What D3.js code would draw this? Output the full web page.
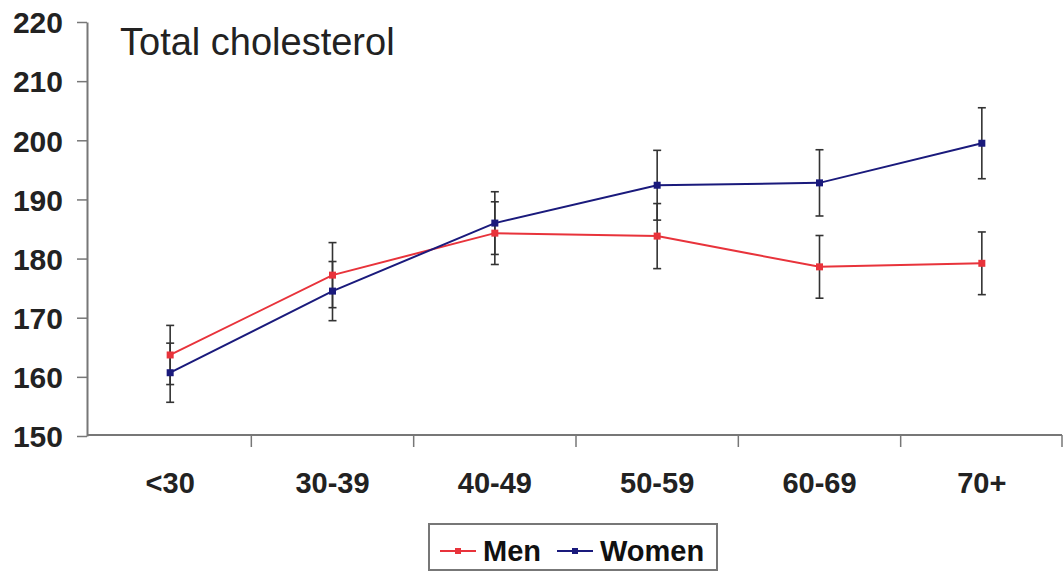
<!DOCTYPE html>
<html><head><meta charset="utf-8">
<script src="https://cdn.jsdelivr.net/npm/d3@7"></script>
<style>html,body{margin:0;padding:0;background:#fff;}svg{display:block;}</style>
</head><body>
<svg id="chart" width="1064" height="573"></svg>
<script>
const categories = ["<30","30-39","40-49","50-59","60-69","70+"];
const menValues = [163.7,177.2,184.3,183.8,178.6,179.2];
const menErr = [5.0,5.5,5.3,5.5,5.3,5.3];
const womenValues = [160.7,174.5,186.0,192.4,192.8,199.5];
const womenErr = [5.0,5.0,5.3,5.9,5.6,6.0];
const yTicks = [150,160,170,180,190,200,210,220];
const seriesNames = ["Men","Women"];
const seriesColors = ["#e8333b","#1a1a7c"];
const titleText = "Total cholesterol";

const svg = d3.select("#chart");
const x = d3.scaleBand().domain(categories).range([89,1063]);
const y = d3.scaleLinear().domain([150,220]).range([436,22]);
const cx = d => x(d) + x.bandwidth()/2;

// axes
const yAxis = svg.append("g").attr("transform","translate(87,0)")
  .call(d3.axisLeft(y).tickValues(yTicks).tickSize(10).tickSizeOuter(0).tickPadding(14));
yAxis.select(".domain").attr("stroke","#777").attr("stroke-width",2);
yAxis.selectAll(".tick line").attr("stroke","#777").attr("stroke-width",1.5);
yAxis.selectAll("text").attr("font-family","Liberation Sans, Arial, sans-serif")
  .attr("font-weight","bold").attr("font-size",30).attr("fill","#222").attr("dy","0.36em");

const xAxis = svg.append("g").attr("transform","translate(0,435)")
  .call(d3.axisBottom(x).tickSize(0).tickPadding(37).tickSizeOuter(0));
xAxis.select(".domain").attr("stroke","#777").attr("stroke-width",2).attr("d","M87,0H1062");
xAxis.selectAll("text").attr("font-family","Liberation Sans, Arial, sans-serif")
  .attr("font-weight","bold").attr("font-size",29).attr("fill","#222");
// boundary ticks
svg.append("g").selectAll("line").data(categories.slice(1).concat(["__end"]))
  .join("line")
  .attr("x1",(d,i)=> i < categories.length-1 ? x(d) : x.range()[1]-1)
  .attr("x2",(d,i)=> i < categories.length-1 ? x(d) : x.range()[1]-1)
  .attr("y1",435).attr("y2",447).attr("stroke","#777").attr("stroke-width",1.5);

// title
svg.append("text").attr("x",120).attr("y",55).text(titleText)
  .attr("font-family","Liberation Sans, Arial, sans-serif").attr("font-size",38).attr("fill","#222");

const series = [
  {name:seriesNames[0], vals:menValues, err:menErr, color:seriesColors[0]},
  {name:seriesNames[1], vals:womenValues, err:womenErr, color:seriesColors[1]}
];

// error bars
series.forEach(s => {
  const g = svg.append("g").attr("stroke","#333").attr("stroke-width",1.6);
  categories.forEach((c,i) => {
    const X = cx(c), top = y(s.vals[i]+s.err[i]), bot = y(s.vals[i]-s.err[i]);
    g.append("line").attr("x1",X).attr("x2",X).attr("y1",top).attr("y2",bot);
    g.append("line").attr("x1",X-4).attr("x2",X+4).attr("y1",top).attr("y2",top);
    g.append("line").attr("x1",X-4).attr("x2",X+4).attr("y1",bot).attr("y2",bot);
  });
});

// lines and markers
const line = d3.line().x(d=>cx(d.c)).y(d=>y(d.v));
series.forEach(s => {
  const pts = categories.map((c,i)=>({c, v:s.vals[i]}));
  svg.append("path").datum(pts).attr("d",line).attr("fill","none")
    .attr("stroke",s.color).attr("stroke-width",2);
  svg.append("g").selectAll("rect").data(pts).join("rect")
    .attr("x",d=>cx(d.c)-3.5).attr("y",d=>y(d.v)-3.5).attr("width",7).attr("height",7)
    .attr("fill",s.color);
});

// legend
const lg = svg.append("g");
lg.append("rect").attr("x",429).attr("y",524).attr("width",288).attr("height",46)
  .attr("fill","#fff").attr("stroke","#777").attr("stroke-width",2);
const legendPos = [{lx:440, tx:483},{lx:557, tx:600}];
series.forEach((s,i) => {
  const p = legendPos[i];
  lg.append("line").attr("x1",p.lx).attr("x2",p.lx+36).attr("y1",551).attr("y2",551)
    .attr("stroke",s.color).attr("stroke-width",2);
  lg.append("rect").attr("x",p.lx+15).attr("y",548).attr("width",6).attr("height",6).attr("fill",s.color);
  lg.append("text").attr("x",p.tx).attr("y",561).text(s.name)
    .attr("font-family","Liberation Sans, Arial, sans-serif").attr("font-weight","bold")
    .attr("font-size",29).attr("fill","#111");
});
</script>
</body></html>
